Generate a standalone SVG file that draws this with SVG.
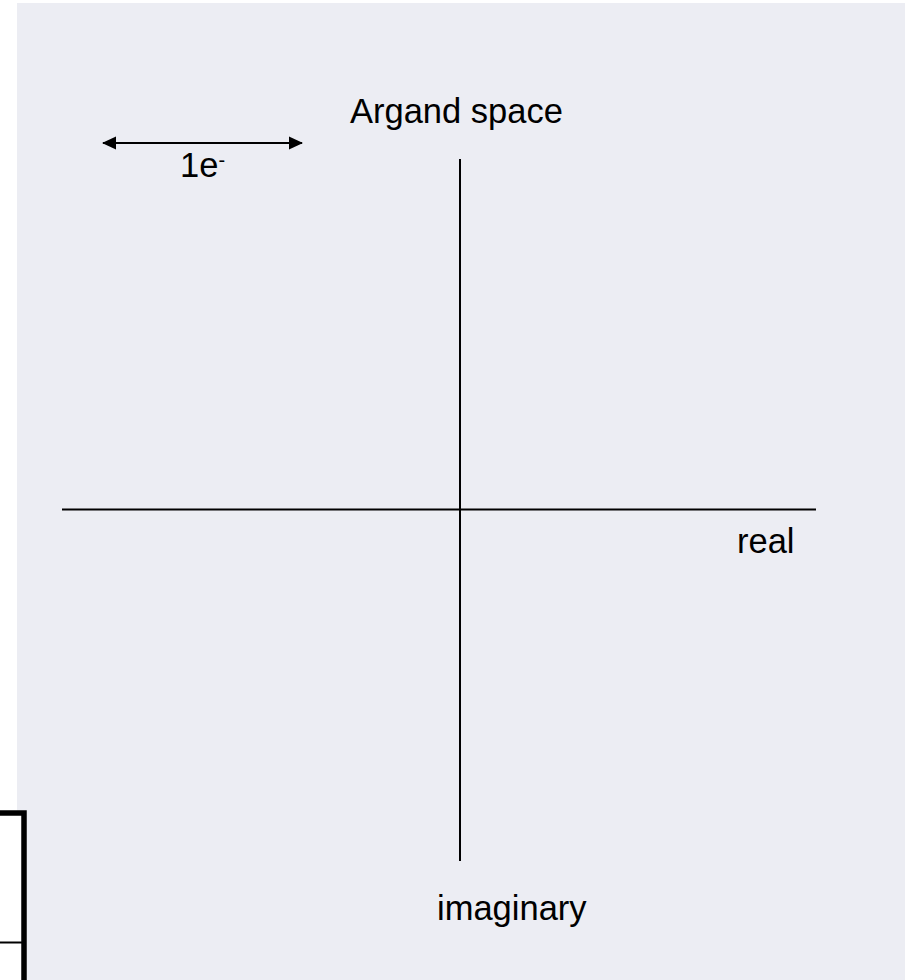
<svg xmlns="http://www.w3.org/2000/svg" width="905" height="980" viewBox="0 0 905 980">
<style>
.t{font-family:"Liberation Sans",Arial,sans-serif;fill:#000;font-size:34.5px}
.ax{stroke:#000;stroke-width:2;fill:none}
</style>
<defs>
<marker id="ah" markerWidth="14" markerHeight="14" refX="13" refY="7" orient="auto-start-reverse" markerUnits="userSpaceOnUse">
<path d="M0,0.5 L14,7 L0,13.5 Z" fill="#000"/>
</marker>
</defs>
<rect x="0" y="0" width="905" height="980" fill="#fff"/>
<rect x="17" y="3" width="888" height="977" fill="#ECEDF3"/>
<g id="box">
<rect x="-10" y="813" width="34" height="180" fill="#fff" stroke="#000" stroke-width="5.5"/>
<line x1="0" y1="942.5" x2="22" y2="942.5" stroke="#000" stroke-width="2"/>
</g>
<g id="connectors">
<line class="ax" x1="460" y1="159" x2="460" y2="861"/>
<line class="ax" x1="62" y1="509.5" x2="816" y2="509.5"/>
<line class="ax" x1="103" y1="143" x2="302" y2="143" marker-start="url(#ah)" marker-end="url(#ah)"/>
</g>
<g id="title"><text class="t" x="350" y="123">Argand space</text></g>
<g id="scale"><text class="t" x="180" y="177">1e<tspan font-size="20" dy="-10">-</tspan></text></g>
<g id="real"><text class="t" x="737" y="553">real</text></g>
<g id="imaginary"><text class="t" x="437" y="920">imaginary</text></g>
</svg>
